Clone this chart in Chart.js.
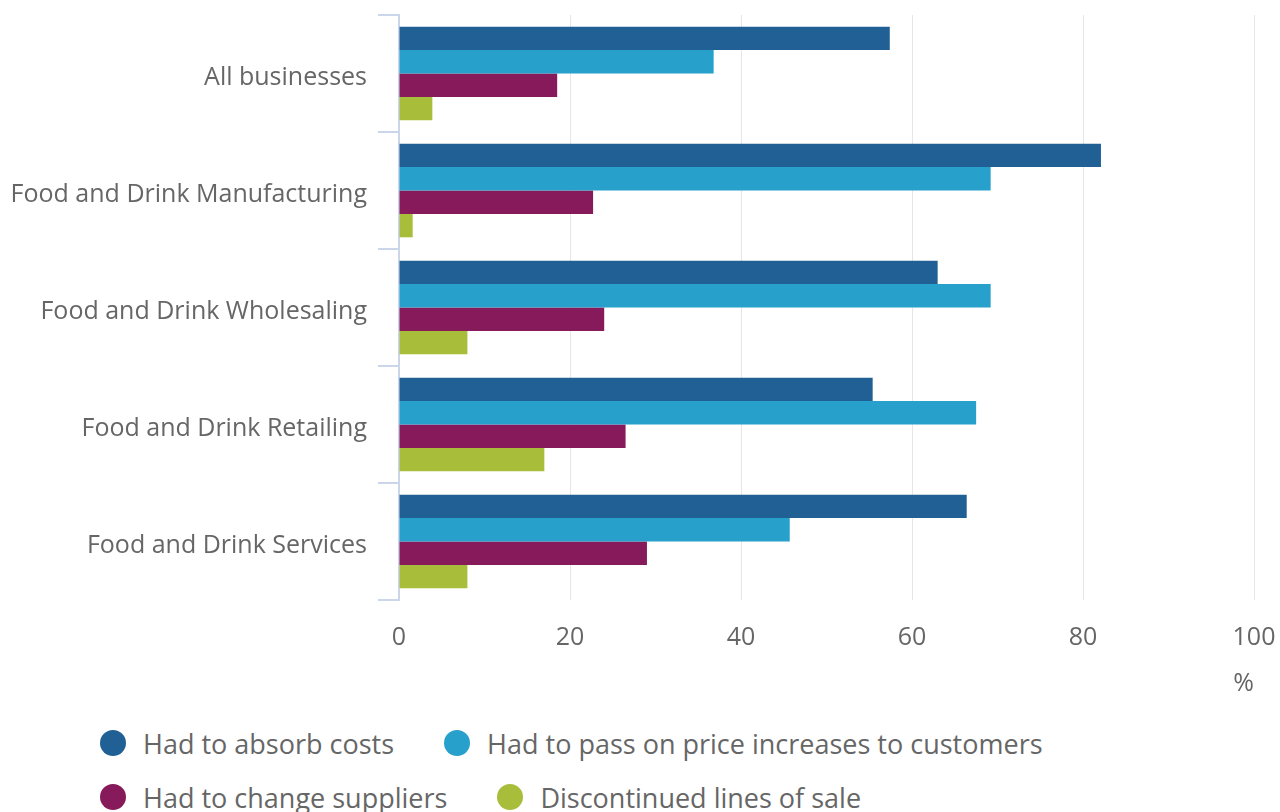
<!DOCTYPE html>
<html>
<head>
<meta charset="utf-8">
<script src="https://cdn.jsdelivr.net/npm/chart.js@4.4.0/dist/chart.umd.min.js"></script>
<style>
  body { margin: 0; background: #fff; font-family: "Open Sans", sans-serif; }
  #wrap { position: relative; width: 1280px; height: 812px; overflow: hidden; }
  #chart-box { position: absolute; left: 0; top: 0; width: 1280px; height: 705px; }
  #legend { position: absolute; left: 100px; top: 716px; }
  .row { display: flex; align-items: center; height: 54px; }
  .item { display: flex; align-items: center; margin-right: 50px; }
  .dot { width: 26px; height: 26px; border-radius: 50%; margin-right: 17px; }
  .txt { font-size: 27px; color: #666; white-space: nowrap; }
</style>
</head>
<body>
<div id="wrap">
  <div id="chart-box"><canvas id="chart"></canvas></div>
  <div id="legend"></div>
</div>
<script>
const categories = [
  "All businesses",
  "Food and Drink Manufacturing",
  "Food and Drink Wholesaling",
  "Food and Drink Retailing",
  "Food and Drink Services"
];
const seriesNames = [
  "Had to absorb costs",
  "Had to pass on price increases to customers",
  "Had to change suppliers",
  "Discontinued lines of sale"
];
const absorbCosts     = [57.4, 82.1, 63.0, 55.4, 66.4];
const passOnPrices    = [36.8, 69.2, 69.2, 67.5, 45.7];
const changeSuppliers = [18.5, 22.7, 24.0, 26.5, 29.0];
const discontinued    = [3.9, 1.6, 8.0, 17.0, 8.0];
const colours = ["#206095", "#27a0cc", "#871a5b", "#a8bd3a"];

const values = [absorbCosts, passOnPrices, changeSuppliers, discontinued];

const datasets = seriesNames.map((name, i) => ({
  label: name,
  data: values[i],
  backgroundColor: colours[i],
  borderWidth: 0,
  categoryPercentage: 0.8,
  barPercentage: 1.0
}));

const font = { family: "'Open Sans', sans-serif", size: 25 };

new Chart(document.getElementById("chart"), {
  type: "bar",
  data: { labels: categories, datasets: datasets },
  options: {
    indexAxis: "y",
    responsive: true,
    maintainAspectRatio: false,
    animation: false,
    layout: { padding: { top: 15, right: 26, left: 0, bottom: 0 } },
    plugins: { legend: { display: false }, tooltip: { enabled: false } },
    scales: {
      x: {
        min: 0, max: 100,
        ticks: { stepSize: 20, color: "#666", font: font, padding: 23 },
        grid: { color: "#e6e6e6", lineWidth: 1, drawTicks: false },
        border: { display: false },
        title: { display: true, text: "%", align: "end", color: "#666", font: font, padding: { top: 0, bottom: 6 } },
        afterFit: s => { s.height = 105; s.paddingLeft = 0; s.paddingRight = 0; }
      },
      y: {
        ticks: { color: "#666", font: font, padding: 11, labelOffset: 4 },
        grid: { drawOnChartArea: false, drawTicks: true, tickLength: 21, color: "#ccd6eb", lineWidth: 2 },
        border: { color: "#ccd6eb", width: 2 },
        afterFit: s => { s.width = 399; s.paddingTop = 0; s.paddingBottom = 0; }
      }
    }
  }
});

// legend, two items per row
const legend = document.getElementById("legend");
for (let r = 0; r < seriesNames.length; r += 2) {
  const row = document.createElement("div");
  row.className = "row";
  seriesNames.slice(r, r + 2).forEach((name, j) => {
    const item = document.createElement("div");
    item.className = "item";
    item.innerHTML = `<span class="dot" style="background:${colours[r + j]}"></span><span class="txt">${name}</span>`;
    row.appendChild(item);
  });
  legend.appendChild(row);
}
</script>
</body>
</html>
